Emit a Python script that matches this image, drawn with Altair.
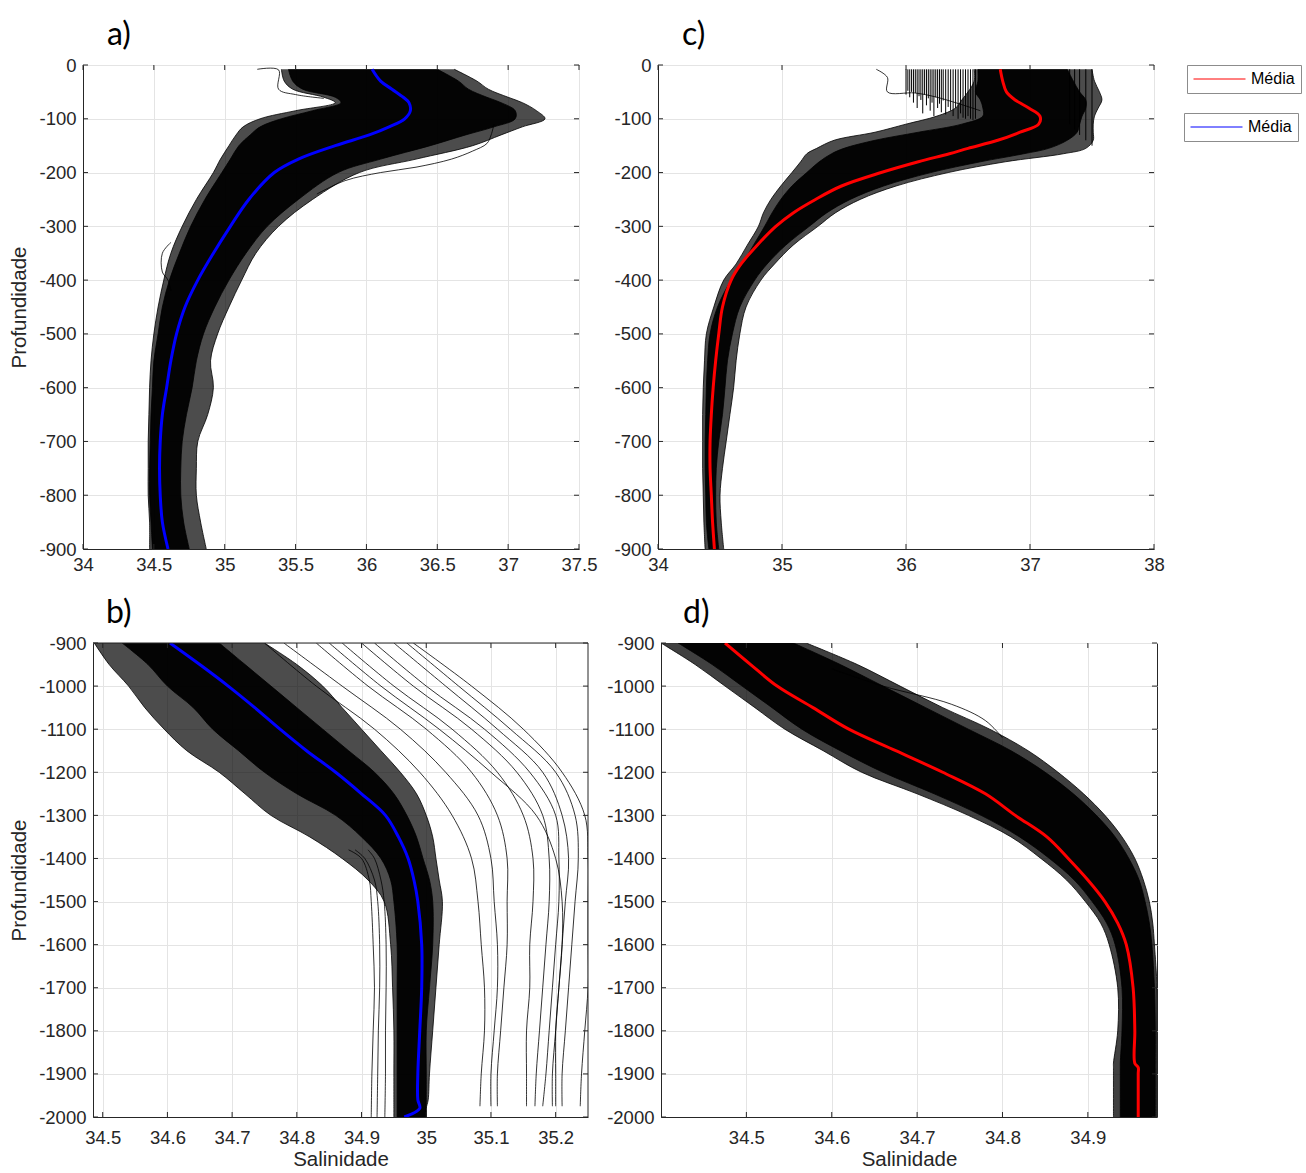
import altair as alt
import pandas as pd

FONT = "Liberation Sans"
TXT = "#262626"

# ---------------- Panel a (0 to -900 m) ----------------
A_DEPTH = [-8, -30, -45, -60, -70, -85, -100, -115, -130, -150, -175, -200, -250, -300, -350, -400,
           -450, -500, -550, -600, -650, -700, -750, -800, -850, -900]
A_MEAN = [36.04, 36.10, 36.18, 36.26, 36.30, 36.31, 36.27, 36.16, 36.02, 35.78, 35.52, 35.35, 35.17, 35.04,
          34.92, 34.81, 34.72, 34.66, 34.62, 34.59, 34.56, 34.545, 34.54, 34.545, 34.56, 34.60]
A_L_OUT = [35.40, 35.42, 35.48, 35.70, 35.78, 35.50, 35.25, 35.13, 35.08, 35.03, 34.97, 34.92, 34.80, 34.70,
           34.62, 34.57, 34.53, 34.50, 34.48, 34.47, 34.465, 34.46, 34.46, 34.46, 34.47, 34.47]
A_L_CORE = [35.45, 35.48, 35.55, 35.78, 35.82, 35.62, 35.40, 35.25, 35.18, 35.10, 35.04, 34.98, 34.86, 34.76,
            34.68, 34.61, 34.56, 34.53, 34.50, 34.49, 34.48, 34.475, 34.47, 34.47, 34.48, 34.49]
A_R_CORE = [36.50, 36.65, 36.72, 36.85, 36.95, 37.05, 37.05, 36.90, 36.70, 36.45, 36.10, 35.80, 35.52, 35.30,
            35.15, 35.03, 34.93, 34.85, 34.80, 34.77, 34.73, 34.70, 34.69, 34.69, 34.71, 34.75]
A_R_OUT = [36.62, 36.78, 36.86, 37.00, 37.10, 37.20, 37.26, 37.10, 36.95, 36.75, 36.35, 35.95, 35.62, 35.38,
           35.22, 35.12, 35.03, 34.95, 34.90, 34.92, 34.88, 34.81, 34.80, 34.80, 34.83, 34.87]
A_X1_DEPTH = [-110, -130, -146, -160, -175, -190, -200, -215, -240]
A_X1 = [36.90, 36.88, 36.85, 36.75, 36.60, 36.35, 36.10, 35.85, 35.65]
A_X2_DEPTH = [-8, -9, -45, -55, -62]
A_X2 = [35.23, 35.38, 35.38, 35.50, 35.70]
A_X3_DEPTH = [-330, -350, -385, -400, -420]
A_X3 = [34.62, 34.56, 34.56, 34.60, 34.62]

# ---------------- Panel c (0 to -900 m) ----------------
C_DEPTH = [-8, -30, -50, -65, -80, -95, -110, -125, -140, -155, -165, -180, -200, -225, -250, -275, -300,
           -335, -370, -400, -450, -500, -550, -600, -650, -700, -750, -800, -850, -900]
C_MEAN = [36.76, 36.78, 36.81, 36.88, 36.99, 37.08, 37.07, 36.92, 36.74, 36.50, 36.35, 36.10, 35.80, 35.48,
          35.27, 35.09, 34.95, 34.80, 34.67, 34.59, 34.52, 34.49, 34.465, 34.445, 34.43, 34.42, 34.42,
          34.43, 34.44, 34.455]
C_L_OUT = [36.55, 36.55, 36.50, 36.45, 36.40, 36.25, 36.00, 35.75, 35.42, 35.28, 35.20, 35.15, 35.08, 34.99,
           34.91, 34.85, 34.81, 34.72, 34.63, 34.53, 34.45, 34.39, 34.375, 34.365, 34.36, 34.36, 34.36,
           34.365, 34.37, 34.38]
C_L_CORE = [36.58, 36.58, 36.56, 36.60, 36.62, 36.62, 36.45, 36.10, 35.75, 35.50, 35.40, 35.30, 35.20, 35.08,
            34.99, 34.92, 34.86, 34.77, 34.68, 34.59, 34.48, 34.42, 34.40, 34.39, 34.385, 34.38, 34.38,
            34.385, 34.39, 34.41]
C_R_CORE = [37.30, 37.35, 37.40, 37.45, 37.45, 37.42, 37.40, 37.38, 37.30, 37.15, 36.95, 36.60, 36.20, 35.82,
            35.55, 35.36, 35.22, 35.03, 34.88, 34.78, 34.66, 34.60, 34.56, 34.54, 34.52, 34.49, 34.47,
            34.465, 34.47, 34.49]
C_R_OUT = [37.50, 37.52, 37.56, 37.58, 37.55, 37.52, 37.51, 37.51, 37.51, 37.45, 37.27, 36.80, 36.34, 35.92,
           35.63, 35.43, 35.29, 35.09, 34.94, 34.83, 34.71, 34.66, 34.63, 34.61, 34.58, 34.55, 34.52,
           34.50, 34.51, 34.53]
C_COMB_X = [36.00, 36.015, 36.03, 36.045, 36.06, 36.075, 36.09, 36.105, 36.12, 36.135, 36.15, 36.165,
            36.18, 36.195, 36.21, 36.225, 36.24, 36.255, 36.27, 36.285, 36.30, 36.32, 36.34, 36.36,
            36.38, 36.40, 36.42, 36.44, 36.46, 36.48, 36.50, 36.52, 36.54, 36.56, 37.32, 37.36, 37.40,
            37.45, 37.50]
C_COMB_BOTTOM = [-55, -48, -60, -50, -70, -52, -80, -58, -65, -90, -55, -75, -62, -85, -70, -95, -60, -80,
                 -72, -88, -66, -92, -78, -85, -95, -80, -100, -90, -98, -100, -95, -100, -102, -100,
                 -110, -120, -130, -140, -150]
C_X1_DEPTH = [-8, -23, -50, -52, -60, -85]
C_X1 = [35.76, 35.85, 35.85, 36.07, 36.25, 36.60]

# ---------------- Panel b (-900 to -2000 m) ----------------
B_DEPTH = [-900, -950, -1000, -1050, -1100, -1150, -1200, -1250, -1300, -1350, -1400, -1450, -1500, -1600,
           -1700, -1800, -1900, -1960, -1980, -2000]
B_MEAN = [34.604, 34.65, 34.694, 34.735, 34.774, 34.815, 34.86, 34.90, 34.937, 34.957, 34.972, 34.981,
          34.987, 34.993, 34.993, 34.99, 34.987, 34.987, 34.99, 34.966]
B_L_OUT = [34.487, 34.51, 34.54, 34.565, 34.595, 34.63, 34.68, 34.72, 34.76, 34.82, 34.87, 34.91, 34.935,
           34.945, 34.948, 34.95, 34.95, 34.95, 34.95, 34.95]
B_L_CORE = [34.53, 34.57, 34.60, 34.64, 34.67, 34.71, 34.75, 34.80, 34.86, 34.90, 34.93, 34.945, 34.95,
            34.955, 34.955, 34.955, 34.955, 34.955, 34.955, 34.955]
B_R_CORE = [34.68, 34.72, 34.76, 34.80, 34.84, 34.88, 34.92, 34.95, 34.97, 34.985, 34.995, 35.005, 35.01,
            35.01, 35.005, 35.00, 35.00, 35.00, 35.00, 35.00]
B_R_OUT = [34.75, 34.80, 34.84, 34.87, 34.90, 34.93, 34.96, 34.985, 35.00, 35.01, 35.015, 35.02, 35.025,
           35.02, 35.015, 35.01, 35.005, 35.003, 35.00, 35.00]
B_LOW_DEPTH = [-1380, -1400, -1450, -1500, -1600, -1700, -1800, -1900, -2000]
B_LOW = [
    [34.88, 34.90, 34.912, 34.915, 34.918, 34.92, 34.918, 34.916, 34.915],
    [34.89, 34.905, 34.92, 34.925, 34.928, 34.928, 34.926, 34.925, 34.924],
    [34.91, 34.92, 34.93, 34.935, 34.938, 34.938, 34.937, 34.937, 34.936],
]
B_HI_DEPTH = [-900, -1000, -1100, -1200, -1300, -1400, -1500, -1600, -1700, -1800, -1900, -1975]
B_HI = [
    [34.75, 34.83, 34.92, 34.99, 35.04, 35.07, 35.08, 35.085, 35.09, 35.09, 35.085, 35.083],
    [34.78, 34.87, 34.96, 35.03, 35.08, 35.10, 35.105, 35.11, 35.11, 35.105, 35.10, 35.10],
    [34.83, 34.91, 35.00, 35.07, 35.11, 35.125, 35.125, 35.125, 35.12, 35.115, 35.11, 35.11],
    [34.87, 34.95, 35.04, 35.11, 35.15, 35.165, 35.165, 35.16, 35.16, 35.155, 35.155, 35.155],
    [34.90, 34.98, 35.07, 35.14, 35.18, 35.19, 35.19, 35.185, 35.18, 35.175, 35.17, 35.168],
    [34.92, 35.00, 35.09, 35.16, 35.20, 35.205, 35.205, 35.20, 35.195, 35.19, 35.185, 35.18],
    [34.95, 35.03, 35.11, 35.18, 35.21, 35.22, 35.215, 35.21, 35.205, 35.20, 35.195, 35.195],
    [34.97, 35.05, 35.13, 35.20, 35.23, 35.235, 35.23, 35.225, 35.22, 35.215, 35.21, 35.21],
    [34.98, 35.07, 35.15, 35.21, 35.245, 35.25, 35.25, 35.25, 35.25, 35.245, 35.24, 35.238],
    [34.85, 34.93, 35.02, 35.10, 35.17, 35.20, 35.21, 35.21, 35.205, 35.20, 35.20, 35.20],
]

# ---------------- Panel d (-900 to -2000 m) ----------------
D_DEPTH = [-900, -950, -1000, -1050, -1100, -1150, -1200, -1250, -1300, -1350, -1400, -1450, -1500, -1550,
           -1600, -1700, -1800, -1875, -1885, -1900, -2000]
D_MEAN = [34.475, 34.505, 34.536, 34.578, 34.62, 34.675, 34.73, 34.78, 34.815, 34.852, 34.877, 34.90, 34.92,
          34.935, 34.945, 34.953, 34.955, 34.955, 34.959, 34.959, 34.959]
D_L_OUT = [34.40, 34.44, 34.475, 34.51, 34.545, 34.59, 34.635, 34.70, 34.76, 34.81, 34.845, 34.875, 34.897,
           34.915, 34.925, 34.935, 34.935, 34.93, 34.93, 34.93, 34.93]
D_L_CORE = [34.42, 34.46, 34.495, 34.53, 34.565, 34.61, 34.66, 34.72, 34.775, 34.82, 34.855, 34.884, 34.905,
            34.922, 34.932, 34.94, 34.94, 34.938, 34.938, 34.938, 34.938]
D_R_CORE = [34.555, 34.61, 34.66, 34.71, 34.76, 34.81, 34.85, 34.883, 34.91, 34.932, 34.948, 34.96, 34.967,
            34.972, 34.975, 34.978, 34.979, 34.979, 34.979, 34.979, 34.979]
D_R_OUT = [34.57, 34.63, 34.68, 34.73, 34.785, 34.83, 34.865, 34.895, 34.92, 34.94, 34.955, 34.965, 34.972,
           34.976, 34.978, 34.981, 34.981, 34.981, 34.981, 34.981, 34.981]
D_X1_DEPTH = [-960, -1000, -1042, -1080, -1120]
D_X1 = [34.60, 34.66, 34.74, 34.78, 34.80]

A_XTICKS = [34, 34.5, 35, 35.5, 36, 36.5, 37, 37.5]
C_XTICKS = [34, 35, 36, 37, 38]
B_XTICKS = [34.5, 34.6, 34.7, 34.8, 34.9, 35, 35.1, 35.2]
D_XTICKS = [34.5, 34.6, 34.7, 34.8, 34.9]
TOP_YTICKS = [0, -100, -200, -300, -400, -500, -600, -700, -800, -900]
BOT_YTICKS = [-900, -1000, -1100, -1200, -1300, -1400, -1500, -1600, -1700, -1800, -1900, -2000]

CURVE = "catmull-rom"


def band(depth, left, right):
    return pd.DataFrame({"depth": depth, "left": left, "right": right})


def lines(series):
    rows = []
    for name, ds, xs in series:
        for i, (d, x) in enumerate(zip(ds, xs)):
            rows.append({"name": name, "depth": d, "sal": x, "seq": i})
    return pd.DataFrame(rows)


def mean_frame(depth, xs, label):
    return pd.DataFrame({"depth": depth, "sal": xs, "seq": list(range(len(xs))),
                         "label": [label] * len(xs)})


LEG = dict(orient="none", title=None, labelExpr="'Média'", symbolType="stroke", symbolSize=2704,
           symbolStrokeWidth=1, labelFontSize=16, labelFont=FONT, labelColor="black",
           strokeColor="#8c8c8c", fillColor="#ffffff", padding=6, labelOffset=5, cornerRadius=0,
           clipHeight=16)


def panel(title, tdx, w, h, xdom, ydom, xticks, yticks, xtitle, ytitle, outer, core, thin, mean_df,
          kind, outer_op, ext, tpad, comb=None, legends=False, lshift=0, lpad=6, xtpad=4):
    if lshift:
        xs = alt.Scale(domain=xdom, nice=False, zero=False, range=[lshift, w + lshift])
    else:
        xs = alt.Scale(domain=xdom, nice=False, zero=False)
    ys = alt.Scale(domain=ydom, nice=False, zero=False)
    ax_x = alt.Axis(values=xticks, labelExpr="'' + datum.value", title=xtitle, tickSize=0,
                    labelPadding=lpad, titlePadding=xtpad, labelFlush=False)
    yargs = dict(values=yticks, labelExpr="'' + datum.value", title=ytitle, tickSize=0,
                 labelPadding=7, minExtent=ext, maxExtent=ext, titlePadding=tpad)
    if lshift:
        yargs["offset"] = -lshift
    ax_y = alt.Axis(**yargs)
    X = lambda f: alt.X(f, scale=xs, axis=ax_x)
    Y = lambda f: alt.Y(f, scale=ys, axis=ax_y)
    layers = [
        alt.Chart(outer).mark_area(orient="horizontal", color="black", opacity=outer_op, clip=True,
                                   interpolate=CURVE)
        .encode(y=Y("depth:Q"), x=X("left:Q"), x2="right:Q"),
        alt.Chart(core).mark_area(orient="horizontal", color="black", opacity=0.95, clip=True,
                                  interpolate=CURVE)
        .encode(y=Y("depth:Q"), x=X("left:Q"), x2="right:Q"),
    ]
    if comb is not None:
        layers.append(alt.Chart(comb).mark_rule(color="black", strokeWidth=1, clip=True).encode(
            x=X("x:Q"), y=Y("top:Q"), y2="bottom:Q"))
    layers.append(alt.Chart(thin).mark_line(color="black", strokeWidth=0.8, clip=True,
                                            interpolate=CURVE).encode(
        x=X("sal:Q"), y=Y("depth:Q"), detail="name:N", order="seq:Q"))
    blue_scale = alt.Scale(domain=["Média ab"], range=["#0000ff"])
    red_scale = alt.Scale(domain=["Média cd"], range=["#ff0000"])
    if kind == "blue":
        layers.append(alt.Chart(mean_df).mark_line(strokeWidth=3, clip=True, interpolate=CURVE).encode(
            x=X("sal:Q"), y=Y("depth:Q"), order="seq:Q",
            stroke=alt.Stroke("label:N", scale=blue_scale, legend=None)))
    else:
        leg_red = alt.Legend(legendX=529, legendY=0, **LEG) if legends else None
        layers.append(alt.Chart(mean_df).mark_line(strokeWidth=3, clip=True, interpolate=CURVE).encode(
            x=X("sal:Q"), y=Y("depth:Q"), order="seq:Q",
            color=alt.Color("label:N", scale=red_scale, legend=leg_red)))
        if legends:
            empty = pd.DataFrame({"sal": [], "depth": [], "label": []})
            layers.append(alt.Chart(empty).mark_line(strokeWidth=3, clip=True).encode(
                x=X("sal:Q"), y=Y("depth:Q"),
                stroke=alt.Stroke("label:N", scale=blue_scale,
                                  legend=alt.Legend(legendX=526, legendY=48, **LEG))))
    # frame edges (top and right) when the view frame is not used
    if lshift:
        top_edge = pd.DataFrame({"x": [xdom[0]], "x2": [xdom[1]], "y": [ydom[1]]})
        right_edge = pd.DataFrame({"x": [xdom[1]], "y": [ydom[0]], "y2": [ydom[1]]})
        layers.append(alt.Chart(top_edge).mark_rule(color=TXT, strokeWidth=1).encode(
            x=X("x:Q"), x2="x2:Q", y=Y("y:Q")))
        layers.append(alt.Chart(right_edge).mark_rule(color=TXT, strokeWidth=1).encode(
            x=X("x:Q"), y=Y("y:Q"), y2="y2:Q"))
    # inward tick marks on all four sides of the frame
    bot = pd.DataFrame({"tx": xticks, "ty": [ydom[0]] * len(xticks)})
    topt = pd.DataFrame({"tx": xticks, "ty": [ydom[1]] * len(xticks)})
    lft = pd.DataFrame({"tx": [xdom[0]] * len(yticks), "ty": yticks})
    rgt = pd.DataFrame({"tx": [xdom[1]] * len(yticks), "ty": yticks})
    for df_, orient, dx, dy in ((bot, "vertical", 0, -2.5), (topt, "vertical", 0, 2.5),
                                (lft, "horizontal", 2.5, 0), (rgt, "horizontal", -2.5, 0)):
        layers.append(alt.Chart(df_).mark_tick(orient=orient, size=5, thickness=1, color=TXT,
                                               opacity=1, xOffset=dx, yOffset=dy).encode(
            x=X("tx:Q"), y=Y("ty:Q")))
    props = dict(width=w + lshift, height=h,
                 title=alt.TitleParams(title, anchor="start", frame="group", dx=tdx + lshift,
                                       font="Lato", fontSize=32, fontWeight="normal", color="black",
                                       offset=4))
    if lshift:
        props["view"] = alt.ViewBackground(strokeOpacity=0)
    return alt.layer(*layers).properties(**props)


a_thin = lines([("lo", A_DEPTH, A_L_OUT), ("ro", A_DEPTH, A_R_OUT), ("lc", A_DEPTH, A_L_CORE),
                ("rc", A_DEPTH, A_R_CORE), ("x1", A_X1_DEPTH, A_X1), ("x2", A_X2_DEPTH, A_X2),
                ("x3", A_X3_DEPTH, A_X3)])
c_thin = lines([("lo", C_DEPTH, C_L_OUT), ("ro", C_DEPTH, C_R_OUT), ("lc", C_DEPTH, C_L_CORE),
                ("rc", C_DEPTH, C_R_CORE), ("x1", C_X1_DEPTH, C_X1)])
b_series = [("lo", B_DEPTH, B_L_OUT), ("ro", B_DEPTH, B_R_OUT), ("lc", B_DEPTH, B_L_CORE),
            ("rc", B_DEPTH, B_R_CORE)]
for k, xs_ in enumerate(B_HI):
    b_series.append(("hi%d" % k, B_HI_DEPTH, xs_))
for k, xs_ in enumerate(B_LOW):
    b_series.append(("low%d" % k, B_LOW_DEPTH, xs_))
b_thin = lines(b_series)
d_thin = lines([("lo", D_DEPTH, D_L_OUT), ("ro", D_DEPTH, D_R_OUT), ("lc", D_DEPTH, D_L_CORE),
                ("rc", D_DEPTH, D_R_CORE), ("x1", D_X1_DEPTH, D_X1)])
c_comb = pd.DataFrame({"x": C_COMB_X, "top": [-8] * len(C_COMB_X), "bottom": C_COMB_BOTTOM})

pa = panel("a)", 24, 496, 484, [34, 37.5], [-900, 0], A_XTICKS, TOP_YTICKS, None, "Profundidade",
           band(A_DEPTH, A_L_OUT, A_R_OUT), band(A_DEPTH, A_L_CORE, A_R_CORE), a_thin,
           mean_frame(A_DEPTH, A_MEAN, "Média ab"), "blue", 0.7, 42, 12)
pc = panel("c)", 24, 496, 484, [34, 38], [-900, 0], C_XTICKS, TOP_YTICKS, None, None,
           band(C_DEPTH, C_L_OUT, C_R_OUT), band(C_DEPTH, C_L_CORE, C_R_CORE), c_thin,
           mean_frame(C_DEPTH, C_MEAN, "Média cd"), "red", 0.7, 42, 12, comb=c_comb, legends=True)
pb = panel("b)", 13, 495, 474, [34.485, 35.25], [-2000, -900], B_XTICKS, BOT_YTICKS, "Salinidade",
           "Profundidade", band(B_DEPTH, B_L_OUT, B_R_OUT), band(B_DEPTH, B_L_CORE, B_R_CORE), b_thin,
           mean_frame(B_DEPTH, B_MEAN, "Média ab"), "blue", 0.7, 50, 14, lshift=10, lpad=11, xtpad=3)
pd_ = panel("d)", 22, 496, 474, [34.40, 34.981], [-2000, -900], D_XTICKS, BOT_YTICKS, "Salinidade",
            None, band(D_DEPTH, D_L_OUT, D_R_OUT), band(D_DEPTH, D_L_CORE, D_R_CORE), d_thin,
            mean_frame(D_DEPTH, D_MEAN, "Média cd"), "red", 0.75, 50, 12, lpad=11, xtpad=3)

top = alt.hconcat(pa, pc, spacing=15).resolve_scale(color="independent", stroke="independent")
bottom = alt.hconcat(pb, pd_, spacing=17).resolve_scale(color="independent", stroke="independent")
chart = alt.concat(top, bottom, columns=1, align="none", spacing=22).resolve_scale(
    color="independent", stroke="independent"
).properties(
    padding={"left": 8, "top": 18, "right": 0, "bottom": 0}
).configure_view(stroke=TXT, strokeWidth=1).configure_axis(
    labelFont=FONT, labelFontSize=18.5, labelColor=TXT, titleFont=FONT, titleFontSize=20.5,
    titleColor=TXT, titleFontWeight="normal", gridColor="#e4e4e4", gridWidth=1, domainColor=TXT
)

chart.save("out.html", embed_options={"renderer": "svg", "actions": False})
